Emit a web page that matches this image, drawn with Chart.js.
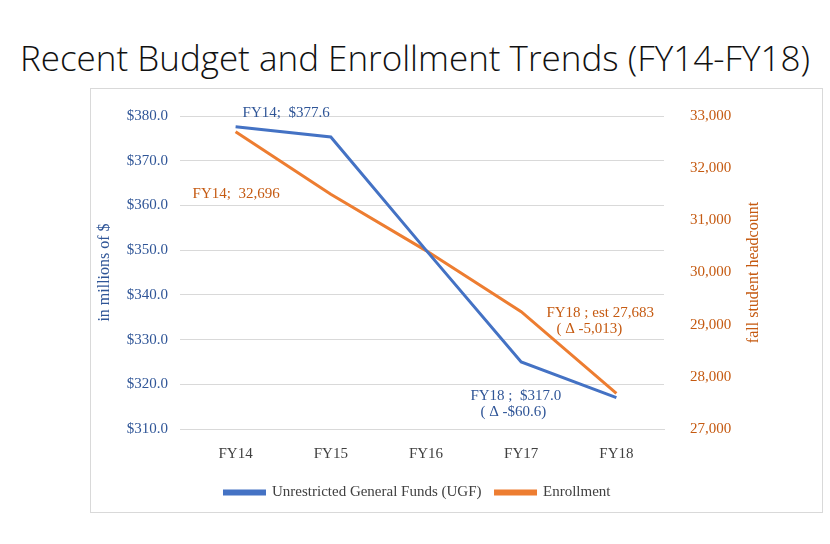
<!DOCTYPE html>
<html><head><meta charset="utf-8">
<script src="https://cdn.jsdelivr.net/npm/chart.js@4"></script>
<style>
  body { margin:0; width:830px; height:544px; background:#fff; position:relative; overflow:hidden; }
  #title { position:absolute; left:0; width:830px; top:34px; text-align:center; font:300 35px "Open Sans", sans-serif; color:#111; }
  #box { position:absolute; left:90px; top:88px; width:731px; height:423px; border:1px solid #d9d9d9; }
</style></head>
<body>
<div id="title">Recent Budget and Enrollment Trends (FY14-FY18)</div>
<div id="box"><canvas id="c"></canvas></div>
<script>
const YEARS = ['FY14', 'FY15', 'FY16', 'FY17', 'FY18'];
const UGF = [377.6, 375.3, 350.0, 325.0, 317.0];
const ENROLL = [32696, 31500, 30420, 29250, 27683];
const BLUE = '#4472C4', ORANGE = '#ED7D31';

// annotation text: [axis, pointIndex, lines, dx, dy, colour]
const NOTES = [
  ['y', 0, ['FY14;  $377.6'], 7, -14, '#2F5597'],
  ['y1', 0, ['FY14;  32,696'], -43, 62, '#C55A11'],
  ['y1', 4, ['FY18 ; est 27,683', '( Δ -5,013)'], -70, -80, '#C55A11'],
  ['y', 4, ['FY18 ;  $317.0', '( Δ -$60.6)'], -146, -2, '#2F5597']
];

const notePlugin = {
  id: 'notes',
  afterDatasetsDraw(chart) {
    const ctx = chart.ctx, x = chart.scales.x, area = chart.chartArea;
    ctx.save();
    ctx.font = '15px "Liberation Serif", serif';
    ctx.textBaseline = 'middle';
    ctx.textAlign = 'left';
    NOTES.forEach(([ax, i, lines, dx, dy, col]) => {
      const v = ax === 'y' ? UGF[i] : ENROLL[i];
      const px = x.getPixelForValue(i) + dx, py = chart.scales[ax].getPixelForValue(v) + dy;
      ctx.fillStyle = col;
      lines.forEach((t, k) => ctx.fillText(t, px + (k ? 10 : 0), py + k * 16));
    });
    // right axis title, reading bottom-to-top
    ctx.font = '16px "Liberation Serif", serif';
    ctx.fillStyle = '#C55A11';
    ctx.textAlign = 'center';
    ctx.translate(chart.scales.y1.right + 10, (area.top + area.bottom) / 2);
    ctx.rotate(-Math.PI / 2);
    ctx.fillText('fall student headcount', 0, 0);
    ctx.restore();
  }
};

const serif = { family: '"Liberation Serif", serif', size: 15 };
new Chart(document.getElementById('c'), {
  type: 'line',
  data: {
    labels: YEARS,
    datasets: [
      { label: 'Unrestricted General Funds (UGF)', data: UGF, yAxisID: 'y', borderColor: BLUE, backgroundColor: BLUE, borderWidth: 3, pointRadius: 0, tension: 0 },
      { label: 'Enrollment', data: ENROLL, yAxisID: 'y1', borderColor: ORANGE, backgroundColor: ORANGE, borderWidth: 3, pointRadius: 0, tension: 0 }
    ]
  },
  options: {
    responsive: true, maintainAspectRatio: false, animation: false,
    layout: { padding: { top: 8, right: 78, left: 0, bottom: 2 } },
    plugins: {
      legend: { position: 'bottom', labels: { color: '#404040', font: serif, boxWidth: 40, boxHeight: 3, padding: 14 } },
      tooltip: { enabled: false }
    },
    scales: {
      x: { offset: true, grid: { display: false }, border: { color: '#d9d9d9' }, ticks: { color: '#404040', font: serif, padding: 8 } },
      y: {
        position: 'left', min: 310, max: 380, afterFit(s) { s.width = 97; },
        ticks: { stepSize: 10, color: '#2F5597', font: serif, padding: 12, callback: v => '$' + v.toFixed(1) },
        grid: { color: '#d9d9d9' }, border: { display: false },
        title: { display: true, text: 'in millions of $', color: '#2F5597', font: { family: '"Liberation Serif", serif', size: 16 } }
      },
      y1: {
        position: 'right', min: 27000, max: 33000, afterFit(s) { s.width = 80; },
        ticks: { stepSize: 1000, color: '#C55A11', font: serif, padding: 18, callback: v => v.toLocaleString('en-US') },
        grid: { display: false }, border: { display: false }
      }
    }
  },
  plugins: [notePlugin]
});
</script>
</body></html>
